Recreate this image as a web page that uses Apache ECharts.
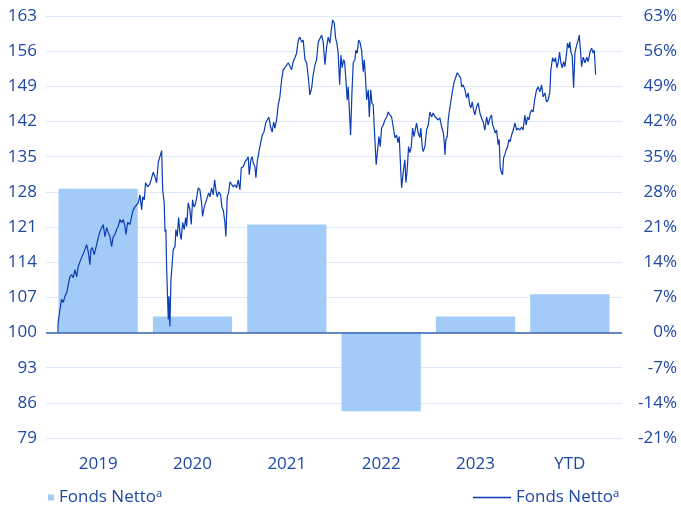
<!DOCTYPE html>
<html>
<head>
<meta charset="utf-8">
<script src="https://cdn.jsdelivr.net/npm/echarts@6/dist/echarts.min.js"></script>
<style>
  html, body { margin: 0; padding: 0; background: #fff; }
  #chart { width: 681px; height: 510px; }
</style>
</head>
<body>
<div id="chart"></div>
<script>
// yearly returns (bars, right axis, %)
const categories = ["2019", "2020", "2021", "2022", "2023", "YTD"]
const yearlyReturns = [28.6, 3.2, 21.5, -15.7, 3.2, 7.6]

// indexed fund value (line, left axis, start = 100), x as decimal year
const navYears = [
  2019.000, 2019.003, 2019.022, 2019.040, 2019.058, 2019.076, 2019.095, 2019.112, 2019.131, 2019.149,
  2019.167, 2019.185, 2019.204, 2019.221, 2019.240, 2019.258, 2019.276, 2019.294, 2019.313, 2019.330,
  2019.349, 2019.359, 2019.374, 2019.395, 2019.422, 2019.439, 2019.458, 2019.476, 2019.493, 2019.512,
  2019.530, 2019.548, 2019.566, 2019.585, 2019.602, 2019.621, 2019.639, 2019.657, 2019.675, 2019.694,
  2019.711, 2019.730, 2019.741, 2019.759, 2019.784, 2019.803, 2019.820, 2019.839, 2019.857, 2019.875,
  2019.893, 2019.912, 2019.923, 2019.940, 2019.955, 2019.977, 2020.002, 2020.021, 2020.038, 2020.057,
  2020.075, 2020.093, 2020.111, 2020.130, 2020.141, 2020.158, 2020.166, 2020.176, 2020.184, 2020.195,
  2020.202, 2020.209, 2020.220, 2020.231, 2020.242, 2020.256, 2020.275, 2020.285, 2020.300, 2020.315,
  2020.329, 2020.343, 2020.358, 2020.376, 2020.391, 2020.402, 2020.419, 2020.438, 2020.452, 2020.467,
  2020.481, 2020.496, 2020.511, 2020.528, 2020.547, 2020.565, 2020.576, 2020.594, 2020.612, 2020.626,
  2020.642, 2020.656, 2020.674, 2020.692, 2020.707, 2020.721, 2020.735, 2020.754, 2020.772, 2020.786,
  2020.801, 2020.819, 2020.830, 2020.844, 2020.859, 2020.874, 2020.892, 2020.910, 2020.928, 2020.947,
  2020.964, 2020.983, 2020.997, 2021.019, 2021.037, 2021.056, 2021.073, 2021.084, 2021.102, 2021.117,
  2021.127, 2021.146, 2021.157, 2021.171, 2021.190, 2021.211, 2021.226, 2021.244, 2021.263, 2021.280,
  2021.298, 2021.317, 2021.334, 2021.350, 2021.364, 2021.382, 2021.400, 2021.418, 2021.437, 2021.454,
  2021.473, 2021.491, 2021.509, 2021.527, 2021.546, 2021.563, 2021.582, 2021.600, 2021.618, 2021.636,
  2021.655, 2021.672, 2021.691, 2021.709, 2021.727, 2021.745, 2021.764, 2021.781, 2021.800, 2021.818,
  2021.836, 2021.854, 2021.873, 2021.890, 2021.909, 2021.927, 2021.944, 2021.963, 2021.974, 2021.992,
  2022.010, 2022.025, 2022.039, 2022.053, 2022.069, 2022.083, 2022.097, 2022.112, 2022.123, 2022.137,
  2022.152, 2022.162, 2022.173, 2022.188, 2022.203, 2022.217, 2022.235, 2022.246, 2022.260, 2022.276,
  2022.290, 2022.308, 2022.326, 2022.337, 2022.352, 2022.363, 2022.381, 2022.392, 2022.407, 2022.420,
  2022.435, 2022.446, 2022.457, 2022.467, 2022.483, 2022.497, 2022.511, 2022.526, 2022.544, 2022.562,
  2022.581, 2022.598, 2022.617, 2022.635, 2022.653, 2022.671, 2022.690, 2022.704, 2022.718, 2022.733,
  2022.744, 2022.761, 2022.780, 2022.791, 2022.805, 2022.820, 2022.834, 2022.849, 2022.864, 2022.878,
  2022.892, 2022.907, 2022.925, 2022.943, 2022.954, 2022.968, 2022.979, 2022.998, 2023.016, 2023.034,
  2023.052, 2023.071, 2023.088, 2023.107, 2023.125, 2023.143, 2023.161, 2023.180, 2023.197, 2023.208,
  2023.216, 2023.227, 2023.241, 2023.252, 2023.263, 2023.278, 2023.295, 2023.314, 2023.332, 2023.350,
  2023.368, 2023.387, 2023.398, 2023.415, 2023.434, 2023.452, 2023.469, 2023.485, 2023.499, 2023.513,
  2023.528, 2023.542, 2023.561, 2023.578, 2023.597, 2023.615, 2023.633, 2023.651, 2023.670, 2023.687,
  2023.706, 2023.724, 2023.735, 2023.749, 2023.764, 2023.779, 2023.796, 2023.807, 2023.818, 2023.833,
  2023.844, 2023.855, 2023.869, 2023.883, 2023.899, 2023.913, 2023.927, 2023.942, 2023.960, 2023.978,
  2023.997, 2024.014, 2024.033, 2024.051, 2024.068, 2024.087, 2024.101, 2024.116, 2024.131, 2024.145,
  2024.160, 2024.177, 2024.193, 2024.214, 2024.232, 2024.250, 2024.269, 2024.286, 2024.305, 2024.323,
  2024.341, 2024.359, 2024.370, 2024.389, 2024.406, 2024.421, 2024.436, 2024.450, 2024.465, 2024.479,
  2024.494, 2024.509, 2024.523, 2024.541, 2024.552, 2024.567, 2024.577, 2024.588, 2024.602, 2024.618,
  2024.632, 2024.651, 2024.668, 2024.679, 2024.694, 2024.705, 2024.723, 2024.741, 2024.760, 2024.777,
  2024.796, 2024.814, 2024.832, 2024.843, 2024.858
]
const navValues = [
  100.0, 102.0, 104.6, 106.6, 106.0, 107.2, 107.9, 109.5, 111.1, 111.5,
  110.9, 112.5, 111.1, 113.1, 114.1, 114.9, 115.1, 116.5, 117.5, 116.1,
  113.5, 116.5, 116.9, 115.5, 117.5, 118.9, 120.1, 119.9, 121.5, 119.1,
  120.9, 119.9, 119.1, 117.1, 119.1, 119.5, 120.5, 121.1, 122.5, 121.9,
  122.5, 121.1, 119.5, 121.9, 121.5, 123.1, 124.4, 125.0, 124.8, 125.8,
  127.4, 124.4, 127.0, 126.4, 129.8, 129.0, 129.6, 129.9, 131.9, 131.0,
  129.8, 133.8, 135.0, 136.2, 128.4, 125.8, 120.1, 120.5, 113.1, 106.6,
  102.6, 107.2, 101.2, 110.5, 113.1, 116.5, 117.1, 120.5, 119.1, 122.9,
  119.9, 118.5, 121.9, 120.5, 122.9, 121.1, 125.8, 124.4, 121.5, 126.4,
  125.0, 125.4, 126.8, 128.8, 128.4, 125.8, 123.1, 125.0, 126.0, 125.8,
  127.8, 127.0, 128.8, 127.4, 130.4, 128.4, 127.0, 128.0, 127.4, 125.0,
  124.4, 121.9, 119.1, 127.0, 127.8, 130.0, 129.8, 129.0, 129.4, 128.8,
  130.4, 128.4, 132.8, 133.0, 133.9, 134.4, 135.0, 131.4, 134.4, 135.0,
  133.8, 133.0, 130.8, 134.0, 136.0, 138.0, 139.3, 139.9, 141.7, 142.3,
  142.9, 140.9, 139.9, 141.9, 140.7, 142.3, 145.3, 146.9, 150.3, 152.3,
  152.7, 152.9, 153.7, 153.7, 152.3, 153.9, 154.7, 155.6, 158.2, 158.8,
  157.8, 158.2, 154.3, 153.7, 150.9, 147.3, 148.7, 151.3, 153.3, 154.3,
  157.8, 157.6, 159.2, 157.8, 153.3, 156.8, 158.8, 157.6, 159.6, 162.2,
  161.6, 158.6, 157.6, 155.6, 149.3, 155.2, 152.7, 154.3, 153.9, 150.3,
  146.3, 148.9, 144.9, 139.3, 147.7, 153.7, 154.3, 156.2, 155.6, 158.2,
  157.8, 156.2, 151.9, 154.3, 150.3, 146.3, 148.3, 142.9, 148.3, 145.7,
  145.3, 140.9, 137.0, 133.4, 136.4, 139.0, 137.0, 140.7, 141.3, 142.3,
  142.9, 143.9, 143.3, 142.9, 140.9, 138.8, 139.3, 137.8, 139.0, 133.0,
  128.8, 131.8, 134.4, 129.8, 132.4, 137.0, 135.8, 137.0, 140.7, 139.0,
  140.3, 141.7, 139.7, 138.8, 140.7, 137.0, 136.0, 137.0, 140.3, 141.3,
  143.9, 142.9, 143.7, 143.0, 142.7, 142.3, 142.7, 140.9, 139.9, 138.0,
  135.4, 138.4, 139.0, 142.3, 143.9, 145.7, 147.7, 149.7, 149.9, 151.7,
  151.7, 150.7, 148.9, 149.3, 148.3, 146.7, 147.7, 145.3, 144.7, 145.9,
  144.3, 143.3, 144.9, 145.7, 143.7, 142.7, 141.9, 140.3, 142.9, 141.3,
  142.7, 143.3, 141.3, 140.7, 139.7, 140.3, 137.4, 138.4, 132.8, 131.8,
  131.4, 134.8, 135.4, 136.4, 137.0, 138.4, 138.0, 139.3, 140.3, 141.7,
  140.3, 140.7, 140.3, 140.9, 140.3, 143.3, 141.3, 142.9, 142.3, 143.7,
  144.3, 143.9, 146.3, 148.3, 148.9, 147.9, 149.3, 146.9, 147.7, 145.9,
  146.3, 147.9, 152.3, 154.7, 153.9, 154.7, 152.7, 153.7, 155.8, 153.7,
  152.7, 153.9, 152.9, 155.6, 157.6, 156.6, 157.8, 155.8, 155.2, 148.7,
  155.6, 157.2, 158.2, 159.2, 155.8, 152.9, 154.8, 153.7, 154.8, 153.9,
  155.8, 156.6, 155.6, 156.2, 151.3
]

const BASE = 100
const seriesName = "Fonds Netto\u1d43"
const font = "'Open Sans', 'Noto Sans', sans-serif"
const labelBlue = "#1f48a6"

const chart = echarts.init(document.getElementById("chart"), null, { renderer: "canvas" })

// all y axes share the same -21..63 frame; the left one is labelled as index (100 + x)
const yFrame = { min: -21, max: 63, interval: 7 }
const textStyle = { color: labelBlue, fontSize: 17, fontFamily: font }

chart.setOption({
  animation: false,
  // grid 0: gridlines, both labelled y axes and the NAV line; grid 1: the yearly bars (slightly inset)
  grid: [
    { left: 46, right: 59, top: 16, bottom: 72 },
    { left: 51, right: 64, top: 16, bottom: 72 },
  ],
  legend: [
    {
      data: [{ name: "bars", icon: "rect" }],
      left: 43, top: 484,
      itemWidth: 6, itemHeight: 6,
      formatter: () => seriesName,
      textStyle,
    },
    {
      data: [{ name: "line", icon: "rect" }],
      left: 468, top: 484,
      itemWidth: 38, itemHeight: 1.3,
      formatter: () => seriesName,
      textStyle,
    },
  ],
  xAxis: [
    {
      gridIndex: 0,
      type: "value",
      min: 2018.87,
      max: 2025.145,
      show: false,
    },
    {
      gridIndex: 1,
      type: "category",
      data: categories,
      axisLine: { show: false },
      axisTick: { show: false },
      axisLabel: { ...textStyle, margin: 18 },
    },
  ],
  yAxis: [
    {
      gridIndex: 0,
      type: "value",
      position: "left",
      ...yFrame,
      axisLine: { show: false },
      axisTick: { show: false },
      axisLabel: { ...textStyle, margin: 9, formatter: (v) => String(v + BASE) },
      splitLine: { lineStyle: { color: "#dde9f9", width: 1 } },
    },
    {
      gridIndex: 0,
      type: "value",
      position: "right",
      ...yFrame,
      axisLine: { show: false },
      axisTick: { show: false },
      axisLabel: { ...textStyle, margin: 55, align: "right", formatter: (v) => v + "%" },
      splitLine: { show: false },
    },
    {
      gridIndex: 1,
      type: "value",
      ...yFrame,
      show: false,
    },
  ],
  series: [
    {
      name: "bars",
      type: "bar",
      xAxisIndex: 1,
      yAxisIndex: 2,
      data: yearlyReturns,
      barWidth: "84%",
      itemStyle: { color: "#a3cbf8" },
    },
    {
      name: "line",
      type: "line",
      xAxisIndex: 0,
      yAxisIndex: 0,
      data: navYears.map((t, i) => [t, navValues[i] - BASE]),
      showSymbol: false,
      lineStyle: { color: "#0a3cb4", width: 1.2 },
      itemStyle: { color: "#0a3cb4" },
      z: 5,
      markLine: {
        silent: true,
        symbol: "none",
        label: { show: false },
        lineStyle: { color: "#3a62b4", type: "solid", width: 1.5 },
        data: [{ yAxis: 0 }],
        z: 4,
      },
    },
  ],
})
</script>
</body>
</html>
